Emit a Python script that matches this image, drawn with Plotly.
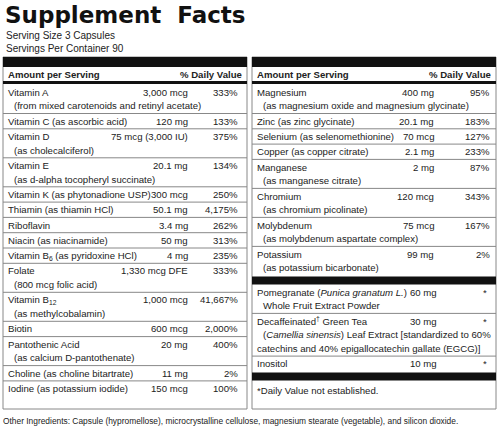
import plotly.graph_objects as go

left_names = [["Vitamin A", "(from mixed carotenoids and retinyl acetate)"],
              ["Vitamin C (as ascorbic acid)"],
              ["Vitamin D", "(as cholecalciferol)"],
              ["Vitamin E", "(as d-alpha tocopheryl succinate)"],
              ["Vitamin K (as phytonadione USP)"],
              ["Thiamin (as thiamin HCl)"],
              ["Riboflavin"],
              ["Niacin (as niacinamide)"],
              ["Vitamin B<sub>6</sub> (as pyridoxine HCl)"],
              ["Folate", "(800 mcg folic acid)"],
              ["Vitamin B<sub>12</sub>", "(as methylcobalamin)"],
              ["Biotin"],
              ["Pantothenic Acid", "(as calcium D-pantothenate)"],
              ["Choline (as choline bitartrate)"],
              ["Iodine (as potassium iodide)"]]
left_amounts = ["3,000 mcg", "120 mg", "75 mcg (3,000 IU)", "20.1 mg", "300 mcg", "50.1 mg",
                "3.4 mg", "50 mg", "4 mg", "1,330 mcg DFE", "1,000 mcg", "600 mcg", "20 mg",
                "11 mg", "150 mcg"]
left_dv = ["333%", "133%", "375%", "134%", "250%", "4,175%", "262%", "313%", "235%",
           "333%", "41,667%", "2,000%", "400%", "2%", "100%"]

right_names = [["Magnesium", "(as magnesium oxide and magnesium glycinate)"],
               ["Zinc (as zinc glycinate)"],
               ["Selenium (as selenomethionine)"],
               ["Copper (as copper citrate)"],
               ["Manganese", "(as manganese citrate)"],
               ["Chromium", "(as chromium picolinate)"],
               ["Molybdenum", "(as molybdenum aspartate complex)"],
               ["Potassium", "(as potassium bicarbonate)"]]
right_amounts = ["400 mg", "20.1 mg", "70 mcg", "2.1 mg", "2 mg", "120 mcg", "75 mcg", "99 mg"]
right_dv = ["95%", "183%", "127%", "233%", "87%", "343%", "167%", "2%"]

other_names = [["Pomegranate (<i>Punica granatum L.</i>)", "Whole Fruit Extract Powder"],
               ["Decaffeinated<sup>†</sup> Green Tea",
                "(<i>Camellia sinensis</i>) Leaf Extract [standardized to 60%",
                "catechins and 40% epigallocatechin gallate (EGCG)]"],
               ["Inositol"]]
other_amounts = ["60 mg", "30 mg", "10 mg"]
other_dv = ["*", "*", "*"]

FONT = "Liberation Sans, Arial"
FS = 9.6
LH = 13.7
PAD = 1.6

shapes, anns = [], []

def text(x, y, s, anchor="left", size=FS, bold=False):
    if bold:
        s = "<b>" + s + "</b>"
    anns.append(dict(x=x, y=y, text=s, xanchor=anchor, yanchor="middle", showarrow=False,
                     font=dict(family=FONT, size=size, color="#222")))

def rect(x0, y0, x1, y1, fill=None, line="#999", w=1):
    shapes.append(dict(type="rect", x0=x0, y0=y0, x1=x1, y1=y1, layer="above",
                       fillcolor=fill if fill else "rgba(0,0,0,0)",
                       line=dict(color=line, width=w if not fill else 0)))

def hline(x0, x1, y, color="#888", w=1):
    shapes.append(dict(type="line", x0=x0, x1=x1, y0=y, y1=y, line=dict(color=color, width=w)))

def rows(names, amts, dvs, y, x0, x1, xname, xamt, xdv, amt_anchor="right", indent=8):
    n = len(names)
    for i, (nm, a, d) in enumerate(zip(names, amts, dvs)):
        yy = y + PAD / 2 + LH / 2
        text(xname, yy, nm[0])
        text(xamt, yy, a, amt_anchor)
        text(xdv, yy, d, "right")
        for j, sub in enumerate(nm[1:]):
            yy += LH
            text(xname + (indent if j == 0 or len(nm) == 2 else 0), yy, sub)
        y += PAD + LH * len(nm)
        if i < n - 1:
            hline(x0, x1, y)
    return y

anns.append(dict(x=3, y=15, text="<b>Supplement  Facts</b>", xanchor="left", yanchor="middle",
                 showarrow=False, font=dict(family="DejaVu Sans, Arial Black", size=23, color="#111")))
text(4, 35, "Serving Size 3 Capsules", size=10)
text(4, 48, "Servings Per Container 90", size=10)

for (x0, x1) in [(3, 247), (252, 496)]:
    rect(x0, 57, x1, 409, line="#888")
    rect(x0, 57, x1, 67, fill="#111")
    text(x0 + 3, 74, "Amount per Serving", bold=True)
    text(x1 - 3, 74, "% Daily Value", "right", bold=True)
    rect(x0, 81, x1, 84, fill="#111")

rows(left_names, left_amounts, left_dv, 84.5, 3, 247, 6, 190, 240, indent=6)
y = rows(right_names, right_amounts, right_dv, 84.5, 252, 496, 255, 436, 492, indent=6)
rect(252, y + 1, 496, y + 9, fill="#111")
y = rows(other_names, other_amounts, other_dv, y + 9, 252, 496, 255, 408, 489, "left", indent=6)
rect(252, y + 1, 496, y + 9, fill="#111")
text(255, y + 19, "*Daily Value not established.")
text(1, 421, "Other Ingredients: Capsule (hypromellose), microcrystalline cellulose, magnesium stearate (vegetable), and silicon dioxide.", size=8.4)

fig = go.Figure()
fig.update_layout(width=500, height=430, margin=dict(l=0, r=0, t=0, b=0),
                  paper_bgcolor="white", plot_bgcolor="white",
                  xaxis=dict(range=[0, 500], visible=False, fixedrange=True),
                  yaxis=dict(range=[430, 0], visible=False, fixedrange=True),
                  shapes=shapes, annotations=anns, showlegend=False)
fig.write_html("out.html", config={"displayModeBar": False},
               post_script="document.body.style.margin='0';document.body.style.overflow='hidden';")
